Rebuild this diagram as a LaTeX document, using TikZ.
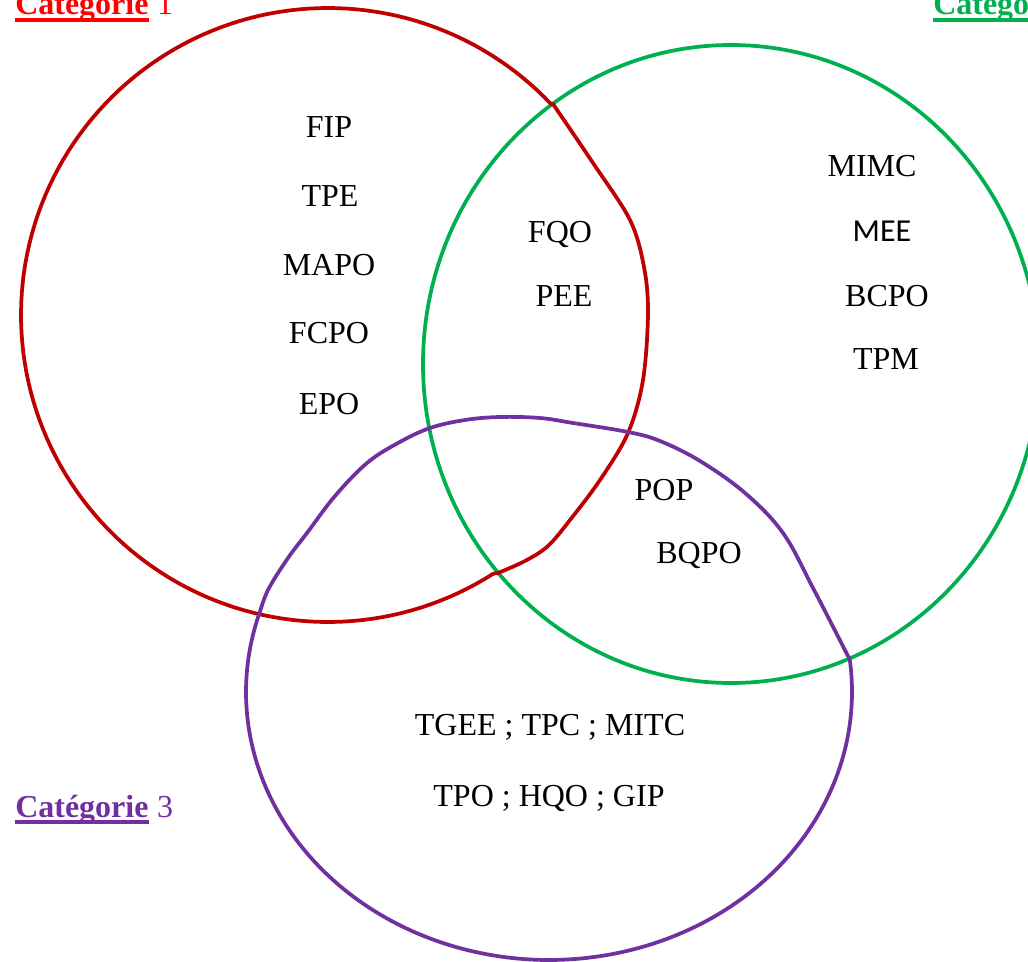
\documentclass[tikz,border=0pt]{standalone}
\usepackage{fontspec}
\setmainfont{Liberation Serif}
\newfontfamily\calibri{Carlito}
\definecolor{circred}{HTML}{C00000}
\definecolor{labred}{HTML}{FF0000}
\definecolor{vgreen}{HTML}{00B050}
\definecolor{vpurple}{HTML}{7030A0}
\tikzset{
  setline/.style={line width=2.8pt, line join=round},
  item/.style={anchor=base, inner sep=0pt, font=\fontsize{24}{28}\selectfont},
  catlab/.style={anchor=base west, inner sep=0pt, font=\fontsize{24}{28}\selectfont},
  uline/.style={line width=2.6pt}
}
\begin{document}
\begin{tikzpicture}[x=0.75pt,y=-0.75pt]
\useasboundingbox (0,0) rectangle (1028,962);
\clip (0,0) rectangle (1028,962);

% Green set
\draw[setline, vgreen] (731,364) ellipse [x radius=308, y radius=319];

% Red set
\draw[setline, circred]
  plot[domain=57.4:316.7, samples=140] ({328+307*cos(\x)},{315+307*sin(\x)})
  -- plot[smooth, tension=0.55] coordinates {(553,104) (593,163) (630,220) (644,267) (648,313) (643,380) (628,433) (600,480) (570,520) (548,546) (525,561) (498,573)}
  -- cycle;

% Purple set
\draw[setline, vpurple]
  plot[smooth, tension=0.6] coordinates {(259,615) (268,590) (288,558) (307,533) (335,496) (367,463) (398,443) (430,428) (465,420) (500,417) (540,418) (573,423) (628,432) (660,441) (700,461) (745,493) (783,533) (813,588) (850,660)}
  -- plot[domain=-6.9:196.7, samples=160] ({549+303*cos(\x)},{692+268*sin(\x)})
  -- cycle;

% Category 1
\node[item] (fip) at (329,138) {FIP};
\node[item] (tpe) at (330,207) {TPE};
\node[item] (mapo) at (329,276) {MAPO};
\node[item] (fcpo) at (329,344) {FCPO};
\node[item] (epo) at (329,415) {EPO};
% 1 & 2
\node[item] (fqo) at (560,243) {FQO};
\node[item] (pee) at (564,307) {PEE};
% Category 2
\node[item] (mimc) at (872,177) {MIMC};
\node[item, font=\calibri\fontsize{24}{28}\selectfont] (mee) at (882,242) {MEE};
\node[item] (bcpo) at (887,307) {BCPO};
\node[item] (tpm) at (886,370) {TPM};
% 2 & 3
\node[item] (pop) at (664,500) {POP};
\node[item] (bqpo) at (699,563) {BQPO};
% Category 3
\node[item] (l1) at (550,735) {TGEE ; TPC ; MITC};
\node[item] (l2) at (549,806) {TPO ; HQO ; GIP};

% Category labels
\node[catlab, text=labred] (c1) at (15,15) {\bfseries Catégorie};
\node[catlab, text=labred] (c1n) at (c1.base east) {\ 1};
\draw[uline, labred] ([yshift=-3.8pt]c1.base west) -- ([yshift=-3.8pt]c1.base east);

\node[catlab, text=vgreen] (c2) at (933,15) {\bfseries Catégorie};
\node[catlab, text=vgreen] (c2n) at (c2.base east) {\ 2};
\draw[uline, vgreen] ([yshift=-3.8pt]c2.base west) -- ([yshift=-3.8pt]c2.base east);

\node[catlab, text=vpurple] (c3) at (15,817) {\bfseries Catégorie};
\node[catlab, text=vpurple] (c3n) at (c3.base east) {\ 3};
\draw[uline, vpurple] ([yshift=-3.8pt]c3.base west) -- ([yshift=-3.8pt]c3.base east);
\end{tikzpicture}
\end{document}
